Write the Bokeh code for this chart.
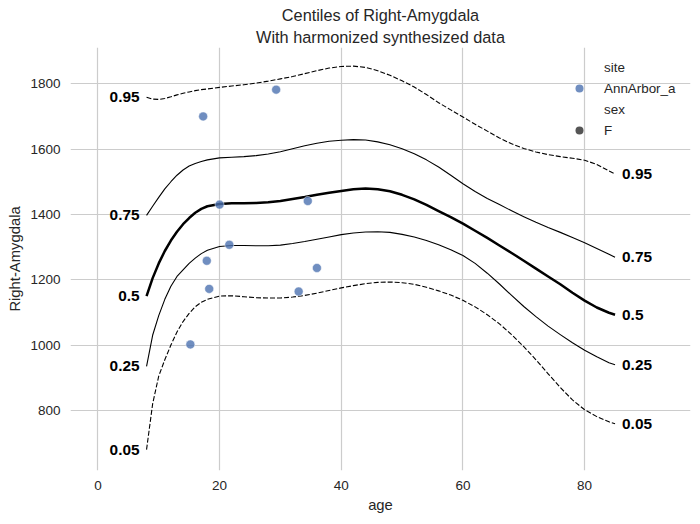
from bokeh.plotting import figure
from bokeh.models import Range1d, FixedTicker, Legend, LegendItem, ColumnDataSource, Title
from bokeh.embed import file_html
from bokeh.resources import INLINE
from bokeh.core.properties import value

FONT = "Liberation Sans"
INK = "#262626"
NAN = float("nan")

# Observed subjects (site AnnArbor_a, sex F)
subj_age = [17.3, 29.3, 20.0, 34.5, 21.6, 17.9, 18.3, 36.0, 33.0, 15.2]
subj_vol = [1700, 1782, 1430, 1441, 1307, 1258, 1172, 1236, 1164, 1002]

# Centile curves over age
age_grid = [8, 9, 10, 11, 12, 13, 14, 15, 16, 17, 18,
            20, 22, 24, 26, 28, 30, 32, 34, 36, 38,
            40, 42, 44, 46, 48, 50, 52, 54, 56, 58,
            60, 62, 64, 66, 68, 70, 72, 74, 76, 78,
            80, 82, 84, 85]
c05 = [680, 820, 905, 955, 1000, 1040, 1072, 1097, 1117, 1131, 1140,
       1150, 1151, 1148, 1145, 1144, 1144, 1147, 1152, 1159, 1167,
       1175, 1182, 1188, 1192, 1193, 1191, 1186, 1177, 1166, 1153,
       1137, 1117, 1093, 1065, 1032, 995, 955, 912, 870, 832,
       802, 781, 765, 759]
c25 = [935, 1030, 1090, 1140, 1180, 1210, 1230, 1250, 1266, 1280, 1290,
       1302, 1305, 1305, 1304, 1304, 1306, 1311, 1317, 1324, 1331,
       1338, 1343, 1346, 1347, 1345, 1339, 1331, 1320, 1307, 1292,
       1274, 1250, 1220, 1187, 1152, 1118, 1087, 1058, 1032, 1007,
       984, 964, 946, 940]
c50 = [1150, 1205, 1250, 1288, 1320, 1347, 1370, 1389, 1405, 1417, 1425,
       1432, 1434, 1434, 1435, 1437, 1441, 1447, 1453, 1460, 1466,
       1472, 1477, 1479, 1477, 1471, 1460, 1446, 1429, 1410, 1392,
       1372, 1350, 1328, 1305, 1282, 1258, 1234, 1210, 1186, 1160,
       1136, 1115, 1099, 1093]
c75 = [1397, 1425, 1452, 1478, 1500, 1520, 1536, 1548, 1556, 1562, 1567,
       1573, 1575, 1577, 1580, 1585, 1592, 1601, 1610, 1618, 1624,
       1627, 1629, 1628, 1622, 1613, 1601, 1586, 1567, 1545, 1520,
       1494, 1470, 1449, 1430, 1411, 1393, 1376, 1360, 1345, 1329,
       1313, 1296, 1278, 1269]
c95 = [1759, 1753, 1752, 1755, 1760, 1766, 1771, 1775, 1779, 1782, 1784,
       1789, 1793, 1797, 1802, 1808, 1815, 1822, 1831, 1840, 1848,
       1853, 1854, 1850, 1840, 1826, 1809, 1790, 1767, 1742, 1720,
       1698, 1676, 1655, 1634, 1616, 1602, 1591, 1583, 1577, 1572,
       1566, 1553, 1533, 1524]

centile_names = ["0.05", "0.25", "0.5", "0.75", "0.95"]
centile_values = [c05, c25, c50, c75, c95]

title_lines = ["Centiles of Right-Amygdala", "With harmonized synthesized data"]
x_ticks = [0, 20, 40, 60, 80]
y_ticks = [800, 1000, 1200, 1400, 1600, 1800]

p = figure(width=700, height=524, output_backend="svg", toolbar_location=None,
           x_range=Range1d(-4.5, 97.4), y_range=Range1d(616, 1911),
           min_border_left=70, min_border_right=10, min_border_top=47,
           min_border_bottom=54)
p.outline_line_color = None
p.background_fill_color = "white"
p.border_fill_color = "white"

# two centred title lines; the later-added title sits nearer the frame
def title_line(text, standoff):
    return Title(text=text, align="center", text_font=FONT, text_font_size="16.3px",
                 text_font_style="normal", text_color=INK, standoff=standoff)

p.title = title_line(title_lines[0], 0)
p.add_layout(title_line(title_lines[1], 4), "above")

for ax in (p.xaxis[0], p.yaxis[0]):
    ax.axis_line_color = None
    ax.major_tick_line_color = None
    ax.minor_tick_line_color = None
    ax.major_tick_out = 0
    ax.major_tick_in = 0
    ax.major_label_standoff = 10
    ax.major_label_text_font = FONT
    ax.major_label_text_font_size = "13.5px"
    ax.major_label_text_color = INK
    ax.axis_label_text_font = FONT
    ax.axis_label_text_font_size = "14.8px"
    ax.axis_label_text_font_style = "normal"
    ax.axis_label_text_color = INK
    ax.axis_label_standoff = 4

p.xaxis.ticker = FixedTicker(ticks=x_ticks)
p.yaxis.ticker = FixedTicker(ticks=y_ticks)
p.xaxis.axis_label = "age"
p.yaxis.axis_label = "Right-Amygdala"

p.xgrid.ticker = FixedTicker(ticks=x_ticks)
p.ygrid.ticker = FixedTicker(ticks=y_ticks)
for g in (p.xgrid[0], p.ygrid[0]):
    g.grid_line_color = "#cccccc"
    g.grid_line_width = 1.2

# centile curves
styles = {
    "0.05": dict(line_width=1.1, line_dash="5 2"),
    "0.25": dict(line_width=1.1, line_dash="solid"),
    "0.5": dict(line_width=2.5, line_dash="solid"),
    "0.75": dict(line_width=1.1, line_dash="solid"),
    "0.95": dict(line_width=1.1, line_dash="5 2"),
}
for name, vals in zip(centile_names, centile_values):
    p.line(age_grid, vals, line_color="black", line_join="round", **styles[name])

# centile labels at both ends of each curve
left_src = ColumnDataSource(dict(x=[age_grid[0]] * 5, y=[v[0] for v in centile_values],
                                 t=centile_names))
right_src = ColumnDataSource(dict(x=[age_grid[-1]] * 5, y=[v[-1] for v in centile_values],
                                  t=centile_names))
p.text(x="x", y="y", text="t", source=left_src, text_font=value(FONT),
       text_font_size="15.4px", text_font_style="bold", text_color="black",
       text_align="right", text_baseline="middle", x_offset=-7)
p.text(x="x", y="y", text="t", source=right_src, text_font=value(FONT),
       text_font_size="15.4px", text_font_style="bold", text_color="black",
       text_align="left", text_baseline="middle", x_offset=7)

# subjects
pts = p.scatter(subj_age, subj_vol, size=9, fill_color="#4c72b0", fill_alpha=0.8,
                line_color="white", line_width=0.5)

# legend with seaborn-style sub headings; entries use empty proxy glyphs
blank_site = p.scatter([NAN], [NAN], fill_alpha=0, line_alpha=0)
site_a = p.scatter([NAN], [NAN], size=8, fill_color="#4c72b0", fill_alpha=0.8,
                   line_color=None)
blank_sex = p.scatter([NAN], [NAN], fill_alpha=0, line_alpha=0)
sex_f = p.scatter([NAN], [NAN], size=8, fill_color="#555555", line_color=None)
legend = Legend(items=[
    LegendItem(label="site", renderers=[blank_site]),
    LegendItem(label="AnnArbor_a", renderers=[site_a]),
    LegendItem(label="sex", renderers=[blank_sex]),
    LegendItem(label="F", renderers=[sex_f]),
], location=(499, 330), orientation="vertical")
legend.border_line_color = None
legend.background_fill_alpha = 0
legend.padding = 0
legend.margin = 0
legend.spacing = 1
legend.glyph_width = 20
legend.glyph_height = 20
legend.label_height = 20
legend.label_standoff = 15
legend.label_text_font = FONT
legend.label_text_font_size = "13.4px"
legend.label_text_color = INK
p.add_layout(legend)

open("out.html", "w").write(file_html(p, INLINE))
